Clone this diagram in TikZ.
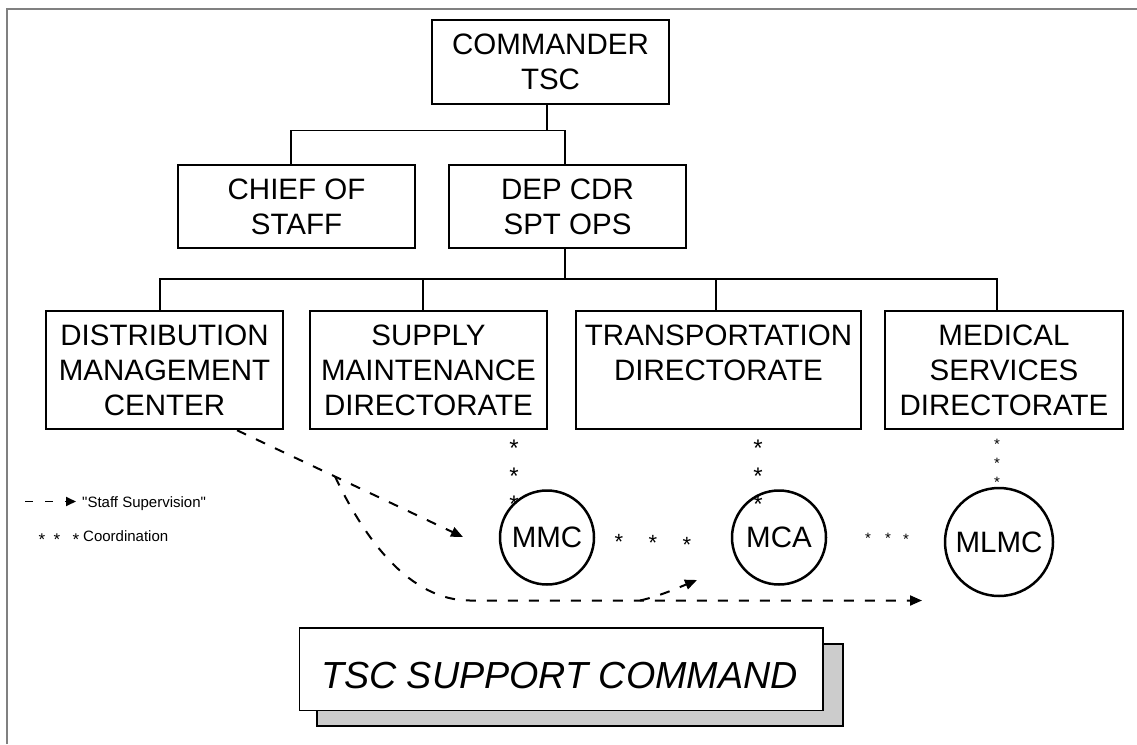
\documentclass[tikz,border=0pt]{standalone}
\usepackage{fontspec}
\setmainfont{Liberation Sans}
\newfontfamily\legendfont{Liberation Sans}
\usetikzlibrary{arrows.meta}
\definecolor{framegray}{RGB}{128,128,128}
\definecolor{shadowgray}{RGB}{204,204,204}
\begin{document}
\begin{tikzpicture}[x=1pt,y=-1pt,
  box/.style={draw, line width=2pt, inner sep=0pt, align=center, font=\fontsize{29.5}{35}\selectfont},
  conn/.style={line width=1.6pt},
  circ/.style={draw, circle, line width=2.5pt, inner sep=0pt, font=\fontsize{29.5}{35}\selectfont},
  dsh/.style={line width=2pt, dash pattern=on 10pt off 11pt},
  tip/.style={-{Triangle[length=12pt,width=10pt]}},
  bstar/.style={anchor=base, inner sep=0pt, font=\fontsize{24}{24}\selectfont},
  mstar/.style={anchor=base, inner sep=0pt, font=\fontsize{22}{22}\selectfont},
  sstar/.style={anchor=base, inner sep=0pt, font=\fontsize{15}{15}\selectfont},
  lstar/.style={anchor=base, inner sep=0pt, font=\fontsize{17}{17}\selectfont},
  legend/.style={anchor=base west, inner sep=0pt, font=\legendfont\fontsize{15}{15}\selectfont}]
\useasboundingbox (0,0) rectangle (1137,744);
\draw[framegray, line width=2pt] (6.5,744) -- (6.5,8.5) -- (1137,8.5);

% boxes
\node[box, minimum width=237pt, minimum height=83.5pt] (cmd) at (550.5,61.75) {COMMANDER\\TSC};
\node[box, minimum width=237pt, minimum height=83pt] (cos) at (296.5,206.5) {CHIEF OF\\STAFF};
\node[box, minimum width=237pt, minimum height=83pt] (dep) at (567.5,206.5) {DEP CDR\\SPT OPS};
\node[box, minimum width=237pt, minimum height=118.5pt] (dmc) at (164.5,370) {DISTRIBUTION\\MANAGEMENT\\CENTER};
\node[box, minimum width=237pt, minimum height=118.5pt] (smd) at (428.5,370) {SUPPLY\\MAINTENANCE\\DIRECTORATE};
\node[box, minimum width=285pt, minimum height=118.5pt] (trd) at (718.5,370) {TRANSPORTATION\\DIRECTORATE\\\mbox{}};
\node[box, minimum width=238pt, minimum height=118.5pt] (med) at (1004,370) {MEDICAL\\SERVICES\\DIRECTORATE};

% tree connectors
\coordinate (t0) at (547,130.5);
\coordinate (h1) at (291,130.5);
\coordinate (h2) at (565,130.5);
\draw[conn] (cmd.south -| t0) -- (t0);
\draw[conn] (cos.north -| h1) |- (h2) -- (dep.north -| h2);
\coordinate (b0) at (565,279);
\coordinate (b1) at (160,279);
\coordinate (b2) at (423,279);
\coordinate (b3) at (716,279);
\coordinate (b4) at (997,279);
\draw[conn] (dep.south -| b0) -- (b0);
\draw[conn] (dmc.north -| b1) |- (b4) -- (med.north -| b4);
\draw[conn] (b2) -- (smd.north -| b2);
\draw[conn] (b3) -- (trd.north -| b3);

% circles
\node[circ, minimum size=94pt] (mmc) at (547,537.5) {MMC};
\node[circ, minimum size=94pt] (mca) at (779,537.5) {MCA};
\node[circ, minimum size=108pt] (mlmc) at (999,542) {MLMC};

% coordination stars
\node[bstar] (sa1) at (514,456.8) {*};
\node[bstar] (sa2) at (514,484.8) {*};
\node[bstar] (sa3) at (514,512.8) {*};
\node[bstar] (sb1) at (758,456.8) {*};
\node[bstar] (sb2) at (758,484.8) {*};
\node[bstar] (sb3) at (758,512.8) {*};
\node[sstar] (sc1) at (997,449.6) {*};
\node[sstar] (sc2) at (997,468.6) {*};
\node[sstar] (sc3) at (997,487.6) {*};
\node[mstar] (sd1) at (619,549.6) {*};
\node[mstar] (sd2) at (653,550.6) {*};
\node[mstar] (sd3) at (687,552.6) {*};
\node[sstar] (se1) at (868,543.6) {*};
\node[sstar] (se2) at (888,543.6) {*};
\node[sstar] (se3) at (906,544.6) {*};

% staff supervision arrows
\coordinate (j) at (335,476.4);
\coordinate (mmcend) at (463,537);
\coordinate (mlmcend) at (922,600.5);
\coordinate (mcastart) at (640,600.5);
\coordinate (mcaend) at (697,580);
\draw[dsh, tip] ([xshift=72.5pt]dmc.south) -- (mmcend);
\draw[dsh, tip] (j) .. controls (365,540) and (410,600.5) .. (470,600.5) -- (mlmcend);
\draw[dsh, tip] (mcastart) .. controls (660,596) and (680,587) .. (mcaend);

% legend
\coordinate (lg1) at (25,501.5);
\coordinate (lg2) at (76,501.5);
\draw[line width=1.8pt, dash pattern=on 8pt off 12pt, -{Triangle[length=10pt,width=9pt]}] (lg1) -- (lg2);
\node[legend] (lgt1) at (82,507) {"Staff Supervision"};
\node[lstar] (ls1) at (42,545.8) {*};
\node[lstar] (ls2) at (57,545.8) {*};
\node[lstar] (ls3) at (76,545.8) {*};
\node[legend] (lgt2) at (83,541) {Coordination};

% bottom title
\node[draw, fill=shadowgray, line width=1.6pt, minimum width=526pt, minimum height=82pt, inner sep=0pt] (shadow) at (580,685) {};
\node[draw, fill=white, line width=1.6pt, minimum width=523.5pt, minimum height=82.5pt, inner sep=0pt] (tscbox) at (561.25,669.25) {};
\node[anchor=base, inner sep=0pt, font=\fontsize{37.7}{40}\selectfont\itshape] (tsctxt) at (559.5,688) {TSC SUPPORT COMMAND};
\end{tikzpicture}
\end{document}
